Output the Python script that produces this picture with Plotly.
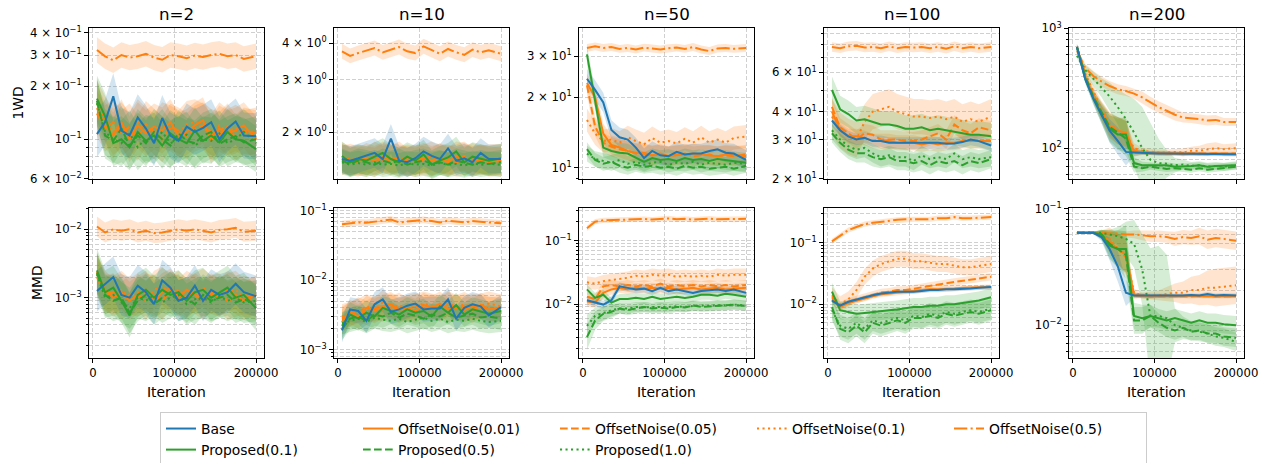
import math
import plotly.graph_objects as go

# ---------------- data ----------------
ITERATIONS = [5000, 15000, 25000, 35000, 45000, 55000, 65000, 75000, 85000, 95000,
              105000, 115000, 125000, 135000, 145000, 155000, 165000, 175000, 185000, 200000]

SERIES = ["Base", "OffsetNoise(0.01)", "OffsetNoise(0.05)", "OffsetNoise(0.1)", "OffsetNoise(0.5)",
          "Proposed(0.1)", "Proposed(0.5)", "Proposed(1.0)"]
PANEL_TITLES = ["n=2", "n=10", "n=50", "n=100", "n=200"]
ROW_LABELS = ["1WD", "MMD"]
X_TICKS = [0, 100000, 200000]
X_TICKTEXT = ["0", "100000", "200000"]
X_TITLE = "Iteration"

WD_N2 = {
    "Base": [0.107, 0.125, 0.175, 0.112, 0.105, 0.133, 0.115, 0.095, 0.132, 0.105, 0.098, 0.118, 0.110, 0.116, 0.125, 0.100, 0.115, 0.126, 0.105, 0.104],
    "OffsetNoise(0.01)": [0.150, 0.120, 0.105, 0.125, 0.100, 0.120, 0.108, 0.118, 0.112, 0.125, 0.105, 0.110, 0.120, 0.128, 0.098, 0.115, 0.108, 0.112, 0.120, 0.100],
    "OffsetNoise(0.05)": [0.140, 0.115, 0.125, 0.108, 0.118, 0.102, 0.122, 0.110, 0.100, 0.118, 0.112, 0.104, 0.115, 0.120, 0.110, 0.106, 0.118, 0.102, 0.112, 0.108],
    "OffsetNoise(0.1)": [0.160, 0.130, 0.110, 0.120, 0.105, 0.125, 0.112, 0.104, 0.120, 0.115, 0.108, 0.122, 0.125, 0.118, 0.103, 0.120, 0.110, 0.116, 0.108, 0.112],
    "OffsetNoise(0.5)": [0.320, 0.295, 0.280, 0.300, 0.290, 0.295, 0.305, 0.290, 0.282, 0.300, 0.295, 0.288, 0.298, 0.292, 0.300, 0.305, 0.295, 0.300, 0.285, 0.295],
    "Proposed(0.1)": [0.170, 0.135, 0.095, 0.100, 0.090, 0.110, 0.098, 0.105, 0.092, 0.108, 0.100, 0.095, 0.112, 0.098, 0.105, 0.096, 0.110, 0.100, 0.098, 0.088],
    "Proposed(0.5)": [0.165, 0.105, 0.098, 0.115, 0.092, 0.105, 0.095, 0.110, 0.100, 0.092, 0.108, 0.098, 0.095, 0.105, 0.110, 0.094, 0.100, 0.104, 0.096, 0.100],
    "Proposed(1.0)": [0.160, 0.110, 0.100, 0.095, 0.108, 0.090, 0.102, 0.098, 0.110, 0.095, 0.100, 0.106, 0.092, 0.100, 0.098, 0.108, 0.095, 0.100, 0.110, 0.095],
}
WD_N10 = {
    "Base": [1.62, 1.60, 1.63, 1.66, 1.70, 1.62, 1.90, 1.60, 1.58, 1.63, 1.72, 1.66, 1.62, 1.76, 1.60, 1.63, 1.58, 1.70, 1.62, 1.62],
    "OffsetNoise(0.01)": [1.65, 1.60, 1.58, 1.64, 1.60, 1.66, 1.62, 1.58, 1.62, 1.60, 1.64, 1.60, 1.63, 1.58, 1.66, 1.64, 1.60, 1.62, 1.58, 1.60],
    "OffsetNoise(0.05)": [1.60, 1.63, 1.60, 1.58, 1.66, 1.60, 1.64, 1.62, 1.60, 1.58, 1.62, 1.66, 1.60, 1.62, 1.58, 1.60, 1.64, 1.60, 1.62, 1.63],
    "OffsetNoise(0.1)": [1.63, 1.58, 1.62, 1.60, 1.58, 1.64, 1.60, 1.66, 1.58, 1.62, 1.60, 1.58, 1.64, 1.60, 1.62, 1.66, 1.58, 1.62, 1.60, 1.58],
    "OffsetNoise(0.5)": [3.75, 3.62, 3.70, 3.78, 3.85, 3.72, 3.80, 3.88, 3.75, 3.70, 3.90, 3.80, 3.68, 3.82, 3.72, 3.65, 3.80, 3.72, 3.78, 3.68],
    "Proposed(0.1)": [1.66, 1.58, 1.62, 1.60, 1.65, 1.70, 1.62, 1.58, 1.65, 1.60, 1.68, 1.55, 1.60, 1.64, 1.72, 1.58, 1.65, 1.62, 1.60, 1.63],
    "Proposed(0.5)": [1.60, 1.56, 1.60, 1.58, 1.55, 1.60, 1.57, 1.60, 1.55, 1.58, 1.60, 1.56, 1.58, 1.55, 1.60, 1.57, 1.55, 1.58, 1.56, 1.58],
    "Proposed(1.0)": [1.58, 1.55, 1.57, 1.55, 1.58, 1.55, 1.56, 1.54, 1.57, 1.55, 1.56, 1.54, 1.57, 1.55, 1.56, 1.54, 1.57, 1.55, 1.56, 1.55],
}
WD_N50 = {
    "Base": [24.0, 21.5, 19.0, 14.5, 13.5, 13.2, 12.2, 11.0, 11.8, 11.3, 11.2, 11.7, 11.4, 11.5, 11.5, 11.8, 12.0, 11.6, 11.5, 10.8],
    "OffsetNoise(0.01)": [23.0, 20.0, 14.0, 12.5, 12.2, 11.8, 11.6, 11.4, 11.3, 11.5, 11.2, 11.4, 11.3, 11.5, 11.4, 11.3, 11.2, 11.4, 11.3, 11.2],
    "OffsetNoise(0.05)": [22.5, 15.0, 12.8, 12.3, 12.0, 11.8, 11.5, 11.6, 11.3, 11.4, 11.2, 11.3, 11.5, 11.2, 11.3, 11.4, 11.2, 11.3, 11.2, 11.4],
    "OffsetNoise(0.1)": [16.0, 14.0, 13.0, 13.2, 12.8, 13.5, 13.0, 12.6, 13.4, 12.8, 13.0, 12.7, 13.3, 12.8, 13.5, 12.8, 13.2, 12.8, 13.4, 13.6],
    "OffsetNoise(0.5)": [32.5, 33.0, 32.5, 32.8, 32.2, 32.5, 32.0, 32.6, 32.3, 32.0, 32.4, 32.6, 32.2, 32.8, 32.0, 31.5, 32.3, 32.5, 32.2, 32.5],
    "Proposed(0.1)": [30.5, 19.5, 12.2, 11.8, 11.6, 11.5, 11.0, 10.6, 11.0, 10.8, 10.9, 10.7, 11.0, 10.8, 10.9, 10.7, 10.9, 10.8, 10.7, 10.5],
    "Proposed(0.5)": [12.0, 10.8, 10.4, 10.6, 10.2, 10.0, 10.3, 10.1, 10.2, 10.0, 10.1, 9.9, 10.2, 10.0, 10.1, 9.9, 10.0, 10.1, 9.9, 10.2],
    "Proposed(1.0)": [11.5, 10.9, 10.7, 10.5, 10.8, 10.4, 10.6, 10.3, 10.5, 10.6, 10.3, 10.5, 10.4, 10.6, 10.3, 10.5, 10.4, 10.3, 10.5, 10.4],
}
WD_N100 = {
    "Base": [36.5, 33.0, 31.0, 30.0, 30.5, 29.5, 29.5, 29.0, 29.0, 29.0, 28.8, 29.0, 28.8, 29.0, 28.7, 28.8, 29.2, 30.0, 29.5, 28.2],
    "OffsetNoise(0.01)": [40.0, 33.0, 31.0, 31.0, 30.5, 29.5, 29.5, 29.5, 29.0, 29.0, 29.0, 28.5, 29.0, 28.5, 29.0, 29.0, 29.5, 29.5, 29.5, 29.5],
    "OffsetNoise(0.05)": [42.0, 34.0, 32.0, 30.0, 32.0, 31.5, 30.0, 30.0, 30.0, 29.5, 29.5, 30.0, 31.0, 32.0, 30.0, 35.0, 33.0, 32.0, 34.0, 33.0],
    "OffsetNoise(0.1)": [38.0, 33.0, 31.0, 30.0, 36.0, 40.0, 41.0, 42.0, 40.0, 39.0, 38.0, 38.0, 37.5, 38.0, 37.0, 38.0, 36.0, 37.0, 36.0, 38.0],
    "OffsetNoise(0.5)": [78.0, 77.0, 78.5, 79.0, 77.5, 78.0, 77.0, 78.5, 77.0, 78.0, 77.5, 78.0, 77.0, 78.0, 76.5, 78.5, 77.0, 78.0, 77.0, 78.0],
    "Proposed(0.1)": [50.0, 41.0, 39.0, 36.5, 37.0, 36.0, 35.0, 35.0, 34.5, 33.5, 33.5, 34.0, 33.0, 33.5, 33.0, 32.5, 32.0, 31.5, 31.5, 31.0],
    "Proposed(0.5)": [32.0, 29.0, 27.0, 26.0, 26.0, 25.0, 24.5, 25.0, 24.0, 24.0, 23.5, 24.0, 23.0, 24.0, 23.5, 24.0, 23.0, 24.0, 23.5, 24.5],
    "Proposed(1.0)": [33.0, 30.0, 28.0, 27.0, 27.5, 26.0, 25.0, 25.5, 25.0, 25.0, 24.0, 25.5, 24.5, 25.0, 24.5, 26.0, 24.5, 25.0, 24.5, 25.0],
}
WD_N200 = {
    "Base": [700, 380, 260, 190, 140, 115, 93, 92, 91, 91, 90, 90, 90, 90, 89, 90, 90, 89, 89, 89],
    "OffsetNoise(0.01)": [700, 400, 270, 200, 150, 140, 135, 93, 92, 91, 90, 90, 90, 89, 90, 89, 89, 90, 89, 89],
    "OffsetNoise(0.05)": [700, 400, 280, 200, 155, 140, 130, 95, 92, 91, 91, 90, 90, 91, 90, 90, 89, 90, 90, 90],
    "OffsetNoise(0.1)": [700, 420, 300, 210, 160, 140, 130, 100, 95, 93, 92, 92, 93, 92, 95, 95, 98, 100, 98, 100],
    "OffsetNoise(0.5)": [650, 470, 400, 360, 330, 310, 300, 285, 265, 240, 220, 205, 190, 180, 178, 175, 170, 172, 165, 165],
    "Proposed(0.1)": [700, 380, 260, 190, 145, 130, 130, 75, 72, 72, 71, 72, 70, 70, 71, 72, 70, 71, 71, 72],
    "Proposed(0.5)": [700, 400, 270, 200, 150, 135, 120, 70, 68, 70, 68, 67, 68, 67, 66, 68, 66, 67, 68, 70],
    "Proposed(1.0)": [590, 450, 380, 320, 270, 220, 175, 135, 100, 80, 75, 74, 72, 73, 71, 72, 70, 71, 70, 72],
}
MMD_N2 = {
    "Base": [1.25e-3, 1.6e-3, 2.0e-3, 1.1e-3, 1.0e-3, 1.5e-3, 1.2e-3, 0.8e-3, 1.8e-3, 1.4e-3, 0.9e-3, 1.0e-3, 1.5e-3, 0.9e-3, 1.3e-3, 1.1e-3, 1.2e-3, 1.6e-3, 1.2e-3, 1.05e-3],
    "OffsetNoise(0.01)": [2.2e-3, 1.3e-3, 1.0e-3, 1.2e-3, 0.9e-3, 1.1e-3, 1.3e-3, 0.95e-3, 1.2e-3, 1.4e-3, 1.0e-3, 1.3e-3, 1.1e-3, 0.9e-3, 1.2e-3, 1.0e-3, 1.3e-3, 1.1e-3, 0.9e-3, 1.1e-3],
    "OffsetNoise(0.05)": [2.0e-3, 1.1e-3, 1.2e-3, 0.9e-3, 1.1e-3, 1.0e-3, 1.2e-3, 1.1e-3, 0.9e-3, 1.3e-3, 1.1e-3, 0.95e-3, 1.2e-3, 1.0e-3, 1.1e-3, 1.2e-3, 0.9e-3, 1.0e-3, 1.1e-3, 1.0e-3],
    "OffsetNoise(0.1)": [2.4e-3, 1.2e-3, 1.1e-3, 1.3e-3, 1.0e-3, 1.2e-3, 0.9e-3, 1.3e-3, 1.5e-3, 1.1e-3, 1.3e-3, 1.0e-3, 1.2e-3, 1.4e-3, 1.1e-3, 1.0e-3, 1.2e-3, 1.3e-3, 1.0e-3, 0.9e-3],
    "OffsetNoise(0.5)": [1.1e-2, 0.9e-2, 1.0e-2, 0.95e-2, 1.0e-2, 0.9e-2, 0.95e-2, 0.88e-2, 0.9e-2, 0.95e-2, 1.0e-2, 0.95e-2, 1.0e-2, 0.95e-2, 0.9e-2, 0.98e-2, 1.0e-2, 1.05e-2, 0.92e-2, 0.95e-2],
    "Proposed(0.1)": [2.5e-3, 1.2e-3, 1.4e-3, 0.9e-3, 0.55e-3, 1.1e-3, 1.3e-3, 1.0e-3, 1.3e-3, 1.1e-3, 1.2e-3, 0.9e-3, 1.2e-3, 1.3e-3, 1.0e-3, 1.2e-3, 1.4e-3, 1.0e-3, 1.1e-3, 0.7e-3],
    "Proposed(0.5)": [2.3e-3, 1.1e-3, 0.9e-3, 1.0e-3, 0.6e-3, 0.9e-3, 1.1e-3, 0.8e-3, 1.0e-3, 1.2e-3, 0.9e-3, 1.0e-3, 0.8e-3, 1.1e-3, 0.9e-3, 1.0e-3, 1.1e-3, 0.85e-3, 0.95e-3, 0.8e-3],
    "Proposed(1.0)": [2.2e-3, 1.0e-3, 1.1e-3, 0.85e-3, 0.7e-3, 1.0e-3, 0.9e-3, 1.1e-3, 0.85e-3, 1.0e-3, 1.1e-3, 0.8e-3, 0.95e-3, 1.0e-3, 0.85e-3, 1.05e-3, 0.9e-3, 1.0e-3, 0.85e-3, 0.9e-3],
}
MMD_N10 = {
    "Base": [1.9e-3, 3.8e-3, 3.6e-3, 2.6e-3, 4.5e-3, 5.3e-3, 3.5e-3, 3.8e-3, 4.3e-3, 4.6e-3, 3.8e-3, 3.9e-3, 3.9e-3, 5.3e-3, 2.8e-3, 4.0e-3, 4.5e-3, 4.2e-3, 3.1e-3, 4.1e-3],
    "OffsetNoise(0.01)": [2.5e-3, 3.5e-3, 3.0e-3, 4.0e-3, 3.6e-3, 4.2e-3, 4.5e-3, 3.8e-3, 4.0e-3, 3.6e-3, 4.4e-3, 4.0e-3, 4.6e-3, 3.8e-3, 4.2e-3, 3.7e-3, 4.3e-3, 4.0e-3, 3.8e-3, 4.0e-3],
    "OffsetNoise(0.05)": [2.8e-3, 3.2e-3, 3.8e-3, 3.4e-3, 4.0e-3, 3.8e-3, 4.3e-3, 3.6e-3, 4.1e-3, 4.4e-3, 3.9e-3, 4.2e-3, 3.8e-3, 4.5e-3, 3.9e-3, 4.2e-3, 3.6e-3, 4.4e-3, 3.9e-3, 3.7e-3],
    "OffsetNoise(0.1)": [3.0e-3, 3.3e-3, 3.6e-3, 4.2e-3, 3.8e-3, 4.8e-3, 4.0e-3, 4.4e-3, 3.8e-3, 4.2e-3, 4.6e-3, 4.3e-3, 4.0e-3, 4.7e-3, 4.1e-3, 4.5e-3, 4.0e-3, 4.3e-3, 4.6e-3, 4.2e-3],
    "OffsetNoise(0.5)": [0.064, 0.066, 0.068, 0.067, 0.070, 0.072, 0.075, 0.068, 0.070, 0.072, 0.074, 0.071, 0.068, 0.072, 0.070, 0.068, 0.071, 0.069, 0.068, 0.066],
    "Proposed(0.1)": [2.2e-3, 3.2e-3, 2.8e-3, 3.4e-3, 3.0e-3, 4.0e-3, 3.6e-3, 3.2e-3, 3.8e-3, 3.4e-3, 3.6e-3, 3.0e-3, 4.2e-3, 3.4e-3, 4.4e-3, 3.2e-3, 3.8e-3, 3.5e-3, 3.3e-3, 3.6e-3],
    "Proposed(0.5)": [2.0e-3, 2.8e-3, 3.0e-3, 2.6e-3, 3.2e-3, 3.0e-3, 3.4e-3, 2.9e-3, 3.3e-3, 3.1e-3, 2.8e-3, 3.2e-3, 3.0e-3, 3.4e-3, 2.9e-3, 3.1e-3, 3.3e-3, 2.9e-3, 3.0e-3, 2.8e-3],
    "Proposed(1.0)": [2.4e-3, 2.6e-3, 2.8e-3, 2.5e-3, 2.9e-3, 2.7e-3, 2.6e-3, 2.8e-3, 2.5e-3, 2.7e-3, 2.9e-3, 2.6e-3, 2.8e-3, 2.5e-3, 2.7e-3, 2.6e-3, 2.8e-3, 2.6e-3, 2.5e-3, 2.6e-3],
}
MMD_N50 = {
    "Base": [0.0115, 0.0105, 0.0098, 0.0115, 0.019, 0.018, 0.017, 0.0175, 0.016, 0.018, 0.016, 0.017, 0.016, 0.015, 0.016, 0.0165, 0.017, 0.016, 0.017, 0.015],
    "OffsetNoise(0.01)": [0.011, 0.0105, 0.015, 0.017, 0.018, 0.017, 0.018, 0.0175, 0.018, 0.0175, 0.018, 0.017, 0.0175, 0.018, 0.017, 0.0175, 0.018, 0.017, 0.0175, 0.018],
    "OffsetNoise(0.05)": [0.013, 0.012, 0.019, 0.020, 0.019, 0.020, 0.019, 0.020, 0.019, 0.021, 0.019, 0.020, 0.019, 0.020, 0.019, 0.020, 0.019, 0.020, 0.019, 0.020],
    "OffsetNoise(0.1)": [0.022, 0.021, 0.023, 0.024, 0.025, 0.026, 0.028, 0.027, 0.029, 0.028, 0.029, 0.027, 0.028, 0.027, 0.028, 0.027, 0.029, 0.028, 0.029, 0.029],
    "OffsetNoise(0.5)": [0.157, 0.200, 0.210, 0.212, 0.215, 0.218, 0.222, 0.220, 0.216, 0.222, 0.225, 0.218, 0.222, 0.215, 0.220, 0.224, 0.218, 0.220, 0.216, 0.222],
    "Proposed(0.1)": [0.017, 0.0125, 0.014, 0.0105, 0.012, 0.012, 0.0125, 0.012, 0.013, 0.012, 0.0125, 0.013, 0.0125, 0.013, 0.014, 0.014, 0.0135, 0.0145, 0.014, 0.013],
    "Proposed(0.5)": [0.003, 0.0055, 0.007, 0.0075, 0.0085, 0.008, 0.0085, 0.009, 0.0085, 0.0087, 0.0085, 0.009, 0.0088, 0.0095, 0.009, 0.0092, 0.0095, 0.0095, 0.0097, 0.0093],
    "Proposed(1.0)": [0.0045, 0.0065, 0.0072, 0.008, 0.0085, 0.0085, 0.009, 0.0088, 0.009, 0.0089, 0.009, 0.0092, 0.009, 0.0093, 0.0095, 0.0094, 0.0096, 0.0095, 0.0098, 0.0095],
}
MMD_N100 = {
    "Base": [0.0115, 0.0095, 0.011, 0.012, 0.013, 0.014, 0.015, 0.0155, 0.016, 0.016, 0.016, 0.0165, 0.017, 0.017, 0.0175, 0.0175, 0.018, 0.018, 0.0185, 0.019],
    "OffsetNoise(0.01)": [0.012, 0.009, 0.0105, 0.0115, 0.0125, 0.0135, 0.0145, 0.015, 0.0155, 0.016, 0.0165, 0.017, 0.0175, 0.0175, 0.018, 0.018, 0.0185, 0.0185, 0.019, 0.019],
    "OffsetNoise(0.05)": [0.013, 0.0095, 0.011, 0.012, 0.013, 0.0145, 0.0155, 0.016, 0.017, 0.017, 0.018, 0.019, 0.020, 0.021, 0.022, 0.023, 0.024, 0.025, 0.026, 0.028],
    "OffsetNoise(0.1)": [0.014, 0.010, 0.012, 0.017, 0.028, 0.038, 0.045, 0.050, 0.055, 0.055, 0.050, 0.050, 0.048, 0.045, 0.045, 0.042, 0.040, 0.040, 0.042, 0.045],
    "OffsetNoise(0.5)": [0.105, 0.130, 0.160, 0.180, 0.200, 0.210, 0.220, 0.230, 0.235, 0.240, 0.240, 0.245, 0.240, 0.250, 0.250, 0.260, 0.250, 0.250, 0.255, 0.260],
    "Proposed(0.1)": [0.016, 0.008, 0.0075, 0.007, 0.0072, 0.0075, 0.0078, 0.008, 0.0082, 0.0085, 0.009, 0.009, 0.0095, 0.0095, 0.010, 0.010, 0.0105, 0.011, 0.0115, 0.013],
    "Proposed(0.5)": [0.009, 0.004, 0.0035, 0.0045, 0.0035, 0.005, 0.0045, 0.005, 0.0055, 0.005, 0.006, 0.006, 0.0065, 0.006, 0.007, 0.0065, 0.007, 0.0075, 0.007, 0.008],
    "Proposed(1.0)": [0.008, 0.0045, 0.004, 0.005, 0.004, 0.0055, 0.005, 0.0055, 0.006, 0.0055, 0.0065, 0.0062, 0.007, 0.0065, 0.0075, 0.007, 0.0075, 0.008, 0.0075, 0.0085],
}
MMD_N200 = {
    "Base": [0.062, 0.062, 0.062, 0.057, 0.045, 0.032, 0.019, 0.018, 0.018, 0.018, 0.018, 0.0178, 0.018, 0.018, 0.0182, 0.018, 0.0185, 0.018, 0.0182, 0.018],
    "OffsetNoise(0.01)": [0.062, 0.062, 0.062, 0.060, 0.052, 0.045, 0.040, 0.018, 0.018, 0.0175, 0.0178, 0.018, 0.0176, 0.0178, 0.018, 0.0177, 0.0178, 0.0176, 0.0178, 0.0177],
    "OffsetNoise(0.05)": [0.062, 0.062, 0.062, 0.060, 0.053, 0.046, 0.038, 0.018, 0.0178, 0.0177, 0.0178, 0.0176, 0.0178, 0.0177, 0.0176, 0.0178, 0.0177, 0.0178, 0.0176, 0.0178],
    "OffsetNoise(0.1)": [0.062, 0.062, 0.062, 0.060, 0.055, 0.045, 0.040, 0.019, 0.018, 0.018, 0.018, 0.0185, 0.019, 0.019, 0.020, 0.020, 0.021, 0.021, 0.0215, 0.022],
    "OffsetNoise(0.5)": [0.062, 0.062, 0.062, 0.062, 0.061, 0.061, 0.060, 0.060, 0.059, 0.058, 0.058, 0.057, 0.055, 0.057, 0.056, 0.058, 0.054, 0.056, 0.055, 0.053],
    "Proposed(0.1)": [0.062, 0.062, 0.062, 0.060, 0.048, 0.045, 0.045, 0.012, 0.0115, 0.012, 0.0115, 0.011, 0.0115, 0.011, 0.0105, 0.011, 0.0105, 0.0105, 0.0102, 0.010],
    "Proposed(0.5)": [0.062, 0.062, 0.062, 0.060, 0.050, 0.045, 0.040, 0.011, 0.011, 0.012, 0.0105, 0.0095, 0.009, 0.0095, 0.0088, 0.009, 0.0085, 0.0085, 0.008, 0.0078],
    "Proposed(1.0)": [0.062, 0.062, 0.062, 0.062, 0.060, 0.058, 0.055, 0.050, 0.030, 0.012, 0.012, 0.0115, 0.010, 0.0095, 0.009, 0.0088, 0.0085, 0.008, 0.0078, 0.0072],
}

# multiplicative half-width of the shaded bands (upper = mean*f, lower = mean/f)
BAND_WD_N2 = {"Base": 1.35, "OffsetNoise(0.01)": 1.35, "OffsetNoise(0.05)": 1.35, "OffsetNoise(0.1)": 1.35,
              "OffsetNoise(0.5)": 1.18, "Proposed(0.1)": 1.35, "Proposed(0.5)": 1.35, "Proposed(1.0)": 1.35}
BAND_WD_N10 = {"Base": 1.12, "OffsetNoise(0.01)": 1.12, "OffsetNoise(0.05)": 1.12, "OffsetNoise(0.1)": 1.12,
               "OffsetNoise(0.5)": 1.06, "Proposed(0.1)": 1.12, "Proposed(0.5)": 1.1, "Proposed(1.0)": 1.1}
BAND_WD_N50 = {"Base": 1.1, "OffsetNoise(0.01)": 1.1, "OffsetNoise(0.05)": 1.1, "OffsetNoise(0.1)": 1.12,
               "OffsetNoise(0.5)": 1.04, "Proposed(0.1)": 1.1, "Proposed(0.5)": 1.07, "Proposed(1.0)": 1.08}
BAND_WD_N100 = {"Base": 1.06, "OffsetNoise(0.01)": 1.08, "OffsetNoise(0.05)": 1.1, "OffsetNoise(0.1)": 1.2,
                "OffsetNoise(0.5)": 1.05, "Proposed(0.1)": 1.15, "Proposed(0.5)": 1.1, "Proposed(1.0)": 1.1}
BAND_WD_N200 = {
    "Base": [1.05, 1.08, 1.12, 1.18, 1.25, 1.3, 1.3, 1.08, 1.04, 1.04, 1.04, 1.04, 1.04, 1.04, 1.04, 1.04, 1.04, 1.04, 1.04, 1.04],
    "OffsetNoise(0.01)": [1.05, 1.08, 1.12, 1.18, 1.25, 1.3, 1.3, 1.08, 1.04, 1.04, 1.04, 1.04, 1.04, 1.04, 1.04, 1.04, 1.04, 1.04, 1.04, 1.04],
    "OffsetNoise(0.05)": [1.05, 1.08, 1.12, 1.18, 1.25, 1.3, 1.3, 1.08, 1.04, 1.04, 1.04, 1.04, 1.04, 1.04, 1.04, 1.04, 1.04, 1.04, 1.04, 1.04],
    "OffsetNoise(0.1)": [1.05, 1.08, 1.12, 1.18, 1.25, 1.3, 1.3, 1.1, 1.06, 1.06, 1.06, 1.06, 1.06, 1.08, 1.08, 1.1, 1.12, 1.12, 1.1, 1.1],
    "OffsetNoise(0.5)": [1.05, 1.08, 1.1, 1.1, 1.1, 1.1, 1.1, 1.1, 1.12, 1.12, 1.12, 1.12, 1.12, 1.1, 1.1, 1.1, 1.1, 1.1, 1.08, 1.08],
    "Proposed(0.1)": [1.05, 1.08, 1.12, 1.2, 1.3, 1.35, 1.4, 1.12, 1.07, 1.06, 1.06, 1.06, 1.06, 1.06, 1.06, 1.06, 1.06, 1.06, 1.06, 1.06],
    "Proposed(0.5)": [1.05, 1.08, 1.12, 1.2, 1.3, 1.35, 1.4, 1.12, 1.07, 1.06, 1.06, 1.06, 1.06, 1.06, 1.06, 1.06, 1.06, 1.06, 1.06, 1.06],
    "Proposed(1.0)": [1.05, 1.1, 1.15, 1.2, 1.3, 1.4, 1.6, 1.9, 2.2, 2.0, 1.6, 1.3, 1.15, 1.1, 1.08, 1.08, 1.08, 1.08, 1.08, 1.08],
}
BAND_MMD_N2 = {"Base": 2.0, "OffsetNoise(0.01)": 1.9, "OffsetNoise(0.05)": 1.9, "OffsetNoise(0.1)": 1.9,
               "OffsetNoise(0.5)": 1.4, "Proposed(0.1)": 2.1, "Proposed(0.5)": 2.0, "Proposed(1.0)": 2.0}
BAND_MMD_N10 = {"Base": 1.5, "OffsetNoise(0.01)": 1.5, "OffsetNoise(0.05)": 1.5, "OffsetNoise(0.1)": 1.5,
                "OffsetNoise(0.5)": 1.12, "Proposed(0.1)": 1.5, "Proposed(0.5)": 1.45, "Proposed(1.0)": 1.45}
BAND_MMD_N50 = {"Base": 1.15, "OffsetNoise(0.01)": 1.2, "OffsetNoise(0.05)": 1.2, "OffsetNoise(0.1)": 1.25,
                "OffsetNoise(0.5)": 1.1, "Proposed(0.1)": 1.2,
                "Proposed(0.5)": [1.6, 1.4, 1.3, 1.25, 1.2, 1.2, 1.2, 1.2, 1.2, 1.2, 1.2, 1.2, 1.2, 1.2, 1.2, 1.2, 1.2, 1.2, 1.2, 1.2],
                "Proposed(1.0)": [1.5, 1.35, 1.3, 1.25, 1.2, 1.2, 1.2, 1.2, 1.2, 1.2, 1.2, 1.2, 1.2, 1.2, 1.2, 1.2, 1.2, 1.2, 1.2, 1.2]}
BAND_MMD_N100 = {"Base": 1.08, "OffsetNoise(0.01)": 1.1, "OffsetNoise(0.05)": 1.15, "OffsetNoise(0.1)": 1.35,
                 "OffsetNoise(0.5)": 1.1, "Proposed(0.1)": 1.4, "Proposed(0.5)": 1.5, "Proposed(1.0)": 1.5}
BAND_MMD_N200 = {
    "Base": [1.01, 1.01, 1.02, 1.08, 1.25, 1.35, 1.3, 1.05, 1.04, 1.04, 1.04, 1.04, 1.04, 1.04, 1.04, 1.04, 1.04, 1.04, 1.04, 1.04],
    "OffsetNoise(0.01)": [1.01, 1.01, 1.02, 1.08, 1.25, 1.35, 1.4, 1.06, 1.04, 1.04, 1.04, 1.04, 1.04, 1.04, 1.04, 1.04, 1.04, 1.04, 1.04, 1.04],
    "OffsetNoise(0.05)": [1.01, 1.01, 1.02, 1.08, 1.25, 1.35, 1.4, 1.06, 1.04, 1.04, 1.04, 1.04, 1.04, 1.04, 1.04, 1.04, 1.04, 1.04, 1.04, 1.04],
    "OffsetNoise(0.1)": [1.01, 1.01, 1.02, 1.08, 1.25, 1.35, 1.4, 1.08, 1.06, 1.08, 1.1, 1.15, 1.2, 1.25, 1.3, 1.35, 1.4, 1.45, 1.45, 1.45],
    "OffsetNoise(0.5)": [1.01, 1.01, 1.02, 1.03, 1.04, 1.05, 1.06, 1.08, 1.1, 1.12, 1.12, 1.12, 1.15, 1.15, 1.15, 1.18, 1.2, 1.2, 1.2, 1.2],
    "Proposed(0.1)": [1.01, 1.01, 1.02, 1.1, 1.3, 1.45, 1.6, 1.3, 1.3, 1.25, 1.2, 1.2, 1.2, 1.2, 1.2, 1.2, 1.2, 1.2, 1.2, 1.2],
    "Proposed(0.5)": [1.01, 1.01, 1.02, 1.1, 1.3, 1.45, 1.6, 1.3, 1.3, 1.25, 1.2, 1.2, 1.2, 1.2, 1.2, 1.2, 1.2, 1.2, 1.2, 1.2],
    "Proposed(1.0)": [1.01, 1.01, 1.02, 1.05, 1.1, 1.2, 1.4, 1.6, 2.0, 3.8, 4.0, 3.5, 1.4, 1.25, 1.2, 1.2, 1.2, 1.2, 1.2, 1.2],
}

# y tick values / labels per panel
WD_N2_TICKS = [0.06, 0.1, 0.2, 0.3, 0.4]
WD_N2_TICKTEXT = ["6 × 10<sup>−2</sup>", "10<sup>−1</sup>", "2 × 10<sup>−1</sup>", "3 × 10<sup>−1</sup>", "4 × 10<sup>−1</sup>"]
WD_N10_TICKS = [2, 3, 4]
WD_N10_TICKTEXT = ["2 × 10<sup>0</sup>", "3 × 10<sup>0</sup>", "4 × 10<sup>0</sup>"]
WD_N50_TICKS = [10, 20, 30]
WD_N50_TICKTEXT = ["10<sup>1</sup>", "2 × 10<sup>1</sup>", "3 × 10<sup>1</sup>"]
WD_N100_TICKS = [20, 30, 40, 60]
WD_N100_TICKTEXT = ["2 × 10<sup>1</sup>", "3 × 10<sup>1</sup>", "4 × 10<sup>1</sup>", "6 × 10<sup>1</sup>"]
WD_N200_TICKS = [100, 1000]
WD_N200_TICKTEXT = ["10<sup>2</sup>", "10<sup>3</sup>"]
MMD_N2_TICKS = [1e-3, 1e-2]
MMD_N2_TICKTEXT = ["10<sup>−3</sup>", "10<sup>−2</sup>"]
MMD_N10_TICKS = [1e-3, 1e-2, 1e-1]
MMD_N10_TICKTEXT = ["10<sup>−3</sup>", "10<sup>−2</sup>", "10<sup>−1</sup>"]
MMD_N50_TICKS = [1e-2, 1e-1]
MMD_N50_TICKTEXT = ["10<sup>−2</sup>", "10<sup>−1</sup>"]
MMD_N100_TICKS = [1e-2, 1e-1]
MMD_N100_TICKTEXT = ["10<sup>−2</sup>", "10<sup>−1</sup>"]
MMD_N200_TICKS = [1e-2, 1e-1]
MMD_N200_TICKTEXT = ["10<sup>−2</sup>", "10<sup>−1</sup>"]

# ---------------- style / layout ----------------
COLORS = {"Base": "#1f77b4", "OffsetNoise(0.01)": "#ff7f0e", "OffsetNoise(0.05)": "#ff7f0e",
          "OffsetNoise(0.1)": "#ff7f0e", "OffsetNoise(0.5)": "#ff7f0e",
          "Proposed(0.1)": "#2ca02c", "Proposed(0.5)": "#2ca02c", "Proposed(1.0)": "#2ca02c"}
FILLS = {"#1f77b4": "rgba(31,119,180,0.2)", "#ff7f0e": "rgba(255,127,14,0.2)", "#2ca02c": "rgba(44,160,44,0.2)"}
DASH_DASHED = "7.7px,3.3px"
DASH_DOTTED = "2.1px,3.4px"
DASH_DASHDOT = "13.3px,3.3px,2.1px,3.3px"
DASHES = {"Base": "solid", "OffsetNoise(0.01)": "solid", "OffsetNoise(0.05)": DASH_DASHED,
          "OffsetNoise(0.1)": DASH_DOTTED, "OffsetNoise(0.5)": DASH_DASHDOT,
          "Proposed(0.1)": "solid", "Proposed(0.5)": DASH_DASHED, "Proposed(1.0)": DASH_DOTTED}
BAND_ORDER = ["OffsetNoise(0.5)", "OffsetNoise(0.1)", "OffsetNoise(0.05)", "OffsetNoise(0.01)",
              "Proposed(1.0)", "Proposed(0.5)", "Proposed(0.1)", "Base"]
LINE_ORDER = ["OffsetNoise(0.5)", "OffsetNoise(0.1)", "OffsetNoise(0.05)", "OffsetNoise(0.01)",
              "Proposed(1.0)", "Proposed(0.5)", "Proposed(0.1)", "Base"]

PANELS = [
    (WD_N2, BAND_WD_N2, [-1.225, -0.37], WD_N2_TICKS, WD_N2_TICKTEXT),
    (WD_N10, BAND_WD_N10, [0.142, 0.653], WD_N10_TICKS, WD_N10_TICKTEXT),
    (WD_N50, BAND_WD_N50, [0.952, 1.597], WD_N50_TICKS, WD_N50_TICKTEXT),
    (WD_N100, BAND_WD_N100, [1.300, 1.977], WD_N100_TICKS, WD_N100_TICKTEXT),
    (WD_N200, BAND_WD_N200, [1.742, 3.003], WD_N200_TICKS, WD_N200_TICKTEXT),
    (MMD_N2, BAND_MMD_N2, [-3.883, -1.688], MMD_N2_TICKS, MMD_N2_TICKTEXT),
    (MMD_N10, BAND_MMD_N10, [-3.12, -0.96], MMD_N10_TICKS, MMD_N10_TICKTEXT),
    (MMD_N50, BAND_MMD_N50, [-2.853, -0.483], MMD_N50_TICKS, MMD_N50_TICKTEXT),
    (MMD_N100, BAND_MMD_N100, [-2.872, -0.437], MMD_N100_TICKS, MMD_N100_TICKTEXT),
    (MMD_N200, BAND_MMD_N200, [-2.281, -0.995], MMD_N200_TICKS, MMD_N200_TICKTEXT),
]

# the page body margin is removed by a small post script, so the figure fills the window
W, H = 1270, 463
ML, MR = 80, 20
PW = W - ML - MR
COL_LEFT = [89, 334, 579, 824, 1069]
PANEL_W = 175
ROW_TOP = [28, 208]
ROW_BOTTOM = [179, 358]
FONT = "DejaVu Sans"
GRID = "#d0d0d0"
GRID_DASH = "4px,2px"
X_RANGE = [-4750, 209750]


def px_x(p):
    return (p - ML) / PW


def px_y(p):
    return 1 - p / H


def minor_vals(lo, hi, majors):
    vals = []
    for e in range(-6, 5):
        for m in range(1, 10):
            v = m * 10.0 ** e
            lv = math.log10(v)
            if lo - 1e-9 <= lv <= hi + 1e-9 and all(abs(v / t - 1) > 1e-6 for t in majors):
                vals.append(v)
    return vals


fig = go.Figure()
layout = {}

for k, (data, band, yr, tv, tt) in enumerate(PANELS):
    r, c = divmod(k, 5)
    sfx = "" if k == 0 else str(k + 1)
    xa, ya = "x" + sfx, "y" + sfx
    for s in BAND_ORDER:
        mean = data[s]
        f = band[s]
        fs = f if isinstance(f, list) else [f] * len(mean)
        upper = [m * q for m, q in zip(mean, fs)]
        lower = [m / q for m, q in zip(mean, fs)]
        fig.add_trace(go.Scatter(
            x=ITERATIONS + ITERATIONS[::-1], y=upper + lower[::-1],
            fill="toself", fillcolor=FILLS[COLORS[s]], line=dict(width=0),
            mode="lines", showlegend=False, hoverinfo="skip", xaxis=xa, yaxis=ya))
    for s in LINE_ORDER:
        fig.add_trace(go.Scatter(
            x=ITERATIONS, y=data[s], mode="lines", name=s,
            line=dict(color=COLORS[s], width=2, dash=DASHES[s]),
            showlegend=(k == 0), legendrank=SERIES.index(s) + 1,
            xaxis=xa, yaxis=ya))

    layout["xaxis" + sfx] = dict(
        domain=[px_x(COL_LEFT[c]), px_x(COL_LEFT[c] + PANEL_W)], anchor=ya,
        range=X_RANGE, tickmode="array", tickvals=X_TICKS, ticktext=X_TICKTEXT,
        showticklabels=(r == 1), ticks="outside", ticklen=4, tickwidth=1, tickcolor="black",
        showline=True, mirror=True, linecolor="black", linewidth=1,
        showgrid=True, gridcolor=GRID, griddash=GRID_DASH, gridwidth=0.8, zeroline=False,
        tickfont=dict(family=FONT, size=11.7, color="black"))
    layout["yaxis" + sfx] = dict(
        domain=[px_y(ROW_BOTTOM[r]), px_y(ROW_TOP[r])], anchor=xa,
        type="log", range=yr, tickmode="array", tickvals=tv, ticktext=tt,
        ticks="outside", ticklen=4, tickwidth=1, tickcolor="black",
        showline=True, mirror=True, linecolor="black", linewidth=1,
        showgrid=True, gridcolor=GRID, griddash=GRID_DASH, gridwidth=0.8, zeroline=False,
        minor=dict(tickmode="array", tickvals=minor_vals(yr[0], yr[1], tv), ticks="outside",
                   ticklen=2, tickwidth=0.8, tickcolor="black", showgrid=True,
                   gridcolor=GRID, griddash=GRID_DASH, gridwidth=0.8),
        tickfont=dict(family=FONT, size=11.7, color="black"))

annotations = []
for c, t in enumerate(PANEL_TITLES):
    annotations.append(dict(text=t, x=px_x(COL_LEFT[c] + PANEL_W / 2), y=px_y(14), xref="paper", yref="paper",
                            showarrow=False, xanchor="center", yanchor="middle",
                            font=dict(family=FONT, size=16.7, color="black")))
    annotations.append(dict(text=X_TITLE, x=px_x(COL_LEFT[c] + PANEL_W / 2), y=px_y(392), xref="paper", yref="paper",
                            showarrow=False, xanchor="center", yanchor="middle",
                            font=dict(family=FONT, size=13.9, color="black")))
for r, (lab, xp) in enumerate(zip(ROW_LABELS, [17, 37])):
    annotations.append(dict(text=lab, x=px_x(xp), y=px_y((ROW_TOP[r] + ROW_BOTTOM[r]) / 2), xref="paper", yref="paper",
                            showarrow=False, xanchor="center", yanchor="middle", textangle=-90,
                            font=dict(family=FONT, size=13.9, color="black")))

fig.update_layout(
    width=W, height=H, margin=dict(l=ML, r=MR, t=0, b=0, autoexpand=False),
    paper_bgcolor="white", plot_bgcolor="white",
    font=dict(family=FONT, size=13.9, color="black"),
    annotations=annotations,
    legend=dict(orientation="h", x=px_x(160), xanchor="left",
                y=px_y(412), yanchor="top", entrywidth=152, entrywidthmode="pixels",
                itemwidth=30, bordercolor="#cccccc", borderwidth=1, bgcolor="white",
                font=dict(family=FONT, size=13.9, color="black"), traceorder="normal"),
    showlegend=True,
    hovermode=False,
    **layout,
)

fig.write_html("out.html", config={"displayModeBar": False},
               post_script="document.body.style.margin='0';document.body.style.overflow='hidden';")
